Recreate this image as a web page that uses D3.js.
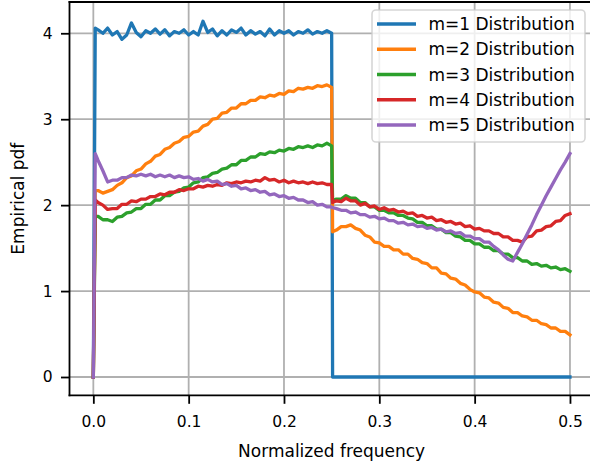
<!DOCTYPE html>
<html>
<head>
<meta charset="utf-8">
<script src="https://cdn.jsdelivr.net/npm/d3@7"></script>
<style>
  html, body { margin: 0; padding: 0; background: #ffffff; }
  svg { display: block; font-family: "DejaVu Sans", sans-serif; }
</style>
</head>
<body>
<svg id="chart" width="590" height="466"></svg>
<script>
// ---- data ----
const freq = [0, 0.002,
  0.005, 0.010, 0.015, 0.020, 0.025, 0.030, 0.035, 0.040, 0.045, 0.050,
  0.055, 0.060, 0.065, 0.070, 0.075, 0.080, 0.085, 0.090, 0.095, 0.100,
  0.105, 0.110, 0.115, 0.120, 0.125, 0.130, 0.135, 0.140, 0.145, 0.150,
  0.155, 0.160, 0.165, 0.170, 0.175, 0.180, 0.185, 0.190, 0.195, 0.200,
  0.205, 0.210, 0.215, 0.220, 0.225, 0.230, 0.235, 0.240, 0.245, 0.250,
  0.251,
  0.255, 0.260, 0.265, 0.270, 0.275, 0.280, 0.285, 0.290, 0.295, 0.300,
  0.305, 0.310, 0.315, 0.320, 0.325, 0.330, 0.335, 0.340, 0.345, 0.350,
  0.355, 0.360, 0.365, 0.370, 0.375, 0.380, 0.385, 0.390, 0.395, 0.400,
  0.405, 0.410, 0.415, 0.420, 0.425, 0.430, 0.435, 0.440, 0.445, 0.450,
  0.455, 0.460, 0.465, 0.470, 0.475, 0.480, 0.485, 0.490, 0.495, 0.500];

const m1 = [0, 4.06,
  4.04, 4.00, 4.06, 3.98, 4.02, 3.93, 3.98, 4.12, 4.01, 3.96,
  4.03, 4.00, 4.05, 3.99, 4.04, 3.97, 4.02, 4.00, 4.04, 3.98,
  4.02, 3.98, 4.14, 4.01, 4.05, 3.97, 4.03, 3.98, 4.04, 4.01,
  4.06, 3.98, 4.03, 3.99, 4.02, 3.97, 4.05, 3.98, 4.03, 4.00,
  4.03, 3.98, 4.02, 4.00, 4.04, 3.99, 4.02, 4.00, 4.03, 4.00,
  0,
  0, 0, 0, 0, 0, 0, 0, 0, 0, 0,
  0, 0, 0, 0, 0, 0, 0, 0, 0, 0,
  0, 0, 0, 0, 0, 0, 0, 0, 0, 0,
  0, 0, 0, 0, 0, 0, 0, 0, 0, 0,
  0, 0, 0, 0, 0, 0, 0, 0, 0, 0];

const m2 = [0, 2.17,
  2.17, 2.14, 2.16, 2.18, 2.23, 2.26, 2.32, 2.34, 2.40, 2.42,
  2.48, 2.51, 2.57, 2.59, 2.65, 2.67, 2.72, 2.74, 2.79, 2.80,
  2.85, 2.86, 2.92, 2.94, 3.00, 3.01, 3.07, 3.08, 3.13, 3.13,
  3.18, 3.18, 3.22, 3.22, 3.26, 3.25, 3.28, 3.27, 3.30, 3.29,
  3.33, 3.32, 3.36, 3.35, 3.37, 3.36, 3.39, 3.38, 3.40, 3.37,
  1.69,
  1.71, 1.75, 1.75, 1.77, 1.73, 1.71, 1.65, 1.63, 1.57, 1.56,
  1.52, 1.52, 1.48, 1.48, 1.43, 1.43, 1.38, 1.37, 1.33, 1.32,
  1.27, 1.27, 1.21, 1.20, 1.15, 1.14, 1.09, 1.07, 1.02, 0.99,
  0.98, 0.93, 0.92, 0.87, 0.86, 0.81, 0.80, 0.75, 0.75, 0.71,
  0.70, 0.66, 0.66, 0.62, 0.61, 0.57, 0.57, 0.53, 0.53, 0.49];

const m3 = [0, 1.87,
  1.87, 1.83, 1.83, 1.81, 1.86, 1.87, 1.91, 1.92, 1.96, 1.96,
  2.01, 2.01, 2.06, 2.06, 2.11, 2.11, 2.15, 2.16, 2.20, 2.21,
  2.26, 2.27, 2.32, 2.33, 2.37, 2.38, 2.42, 2.43, 2.47, 2.47,
  2.52, 2.52, 2.56, 2.56, 2.60, 2.59, 2.62, 2.61, 2.64, 2.63,
  2.66, 2.65, 2.68, 2.67, 2.69, 2.67, 2.70, 2.69, 2.72, 2.69,
  2.05,
  2.07, 2.07, 2.11, 2.08, 2.08, 2.03, 2.03, 1.98, 1.98, 1.94,
  1.94, 1.91, 1.91, 1.88, 1.88, 1.85, 1.84, 1.80, 1.80, 1.76,
  1.76, 1.72, 1.72, 1.68, 1.68, 1.64, 1.63, 1.59, 1.59, 1.55,
  1.55, 1.51, 1.51, 1.47, 1.47, 1.43, 1.43, 1.39, 1.39, 1.35,
  1.35, 1.31, 1.32, 1.29, 1.30, 1.27, 1.28, 1.25, 1.26, 1.23];

const m4 = [0, 2.06,
  2.03, 2.00, 1.95, 1.96, 1.96, 2.01, 2.01, 2.05, 2.04, 2.07,
  2.07, 2.10, 2.10, 2.13, 2.12, 2.15, 2.15, 2.18, 2.17, 2.19,
  2.19, 2.22, 2.21, 2.23, 2.22, 2.24, 2.23, 2.26, 2.25, 2.27,
  2.26, 2.28, 2.27, 2.29, 2.28, 2.32, 2.29, 2.30, 2.27, 2.29,
  2.26, 2.28, 2.26, 2.27, 2.25, 2.27, 2.25, 2.26, 2.24, 2.24,
  2.03,
  2.05, 2.04, 2.08, 2.05, 2.05, 2.00, 2.02, 1.98, 1.99, 1.95,
  1.97, 1.94, 1.95, 1.92, 1.93, 1.90, 1.91, 1.87, 1.88, 1.85,
  1.86, 1.82, 1.83, 1.80, 1.81, 1.78, 1.79, 1.75, 1.76, 1.72,
  1.73, 1.70, 1.70, 1.67, 1.67, 1.63, 1.63, 1.59, 1.59, 1.57,
  1.63, 1.64, 1.70, 1.71, 1.75, 1.76, 1.81, 1.82, 1.88, 1.90];

const m5 = [0, 2.60,
  2.52, 2.40, 2.27, 2.29, 2.29, 2.32, 2.32, 2.35, 2.34, 2.36,
  2.34, 2.36, 2.33, 2.35, 2.33, 2.35, 2.32, 2.34, 2.32, 2.33,
  2.30, 2.31, 2.28, 2.30, 2.27, 2.28, 2.24, 2.25, 2.22, 2.23,
  2.19, 2.20, 2.17, 2.18, 2.15, 2.16, 2.12, 2.13, 2.10, 2.11,
  2.08, 2.09, 2.06, 2.06, 2.03, 2.04, 2.00, 2.01, 1.98, 1.98,
  1.97,
  1.96, 1.94, 1.94, 1.91, 1.92, 1.89, 1.89, 1.86, 1.87, 1.84,
  1.85, 1.82, 1.82, 1.79, 1.80, 1.77, 1.78, 1.75, 1.76, 1.73,
  1.74, 1.71, 1.72, 1.69, 1.70, 1.67, 1.68, 1.64, 1.64, 1.61,
  1.61, 1.57, 1.57, 1.52, 1.48, 1.42, 1.37, 1.35, 1.45, 1.55,
  1.66, 1.77, 1.89, 2.00, 2.11, 2.21, 2.31, 2.41, 2.50, 2.60];

const seriesNames = ["m=1 Distribution", "m=2 Distribution", "m=3 Distribution",
                     "m=4 Distribution", "m=5 Distribution"];
const seriesValues = [m1, m2, m3, m4, m5];
const colors = ["#1f77b4", "#ff7f0e", "#2ca02c", "#d62728", "#9467bd"];

const xTicks = [0, 0.1, 0.2, 0.3, 0.4, 0.5];
const xTickLabels = ["0.0", "0.1", "0.2", "0.3", "0.4", "0.5"];
const yTicks = [0, 1, 2, 3, 4];
const yTickLabels = ["0", "1", "2", "3", "4"];
const xLabel = "Normalized frequency";
const yLabel = "Empirical pdf";

// ---- layout ----
const plotLeft = 69.5, plotRight = 593.8, plotTop = 2, plotBottom = 395.3;
const svg = d3.select("#chart");

const x = d3.scaleLinear().domain([-0.025, 0.525]).range([plotLeft, plotRight]);
const y = d3.scaleLinear().domain([-0.213, 4.364]).range([plotBottom, plotTop]);

// grid
const grid = svg.append("g");
grid.selectAll("line.vx").data(xTicks).enter().append("line")
  .attr("x1", d => x(d)).attr("x2", d => x(d))
  .attr("y1", plotTop).attr("y2", plotBottom)
  .attr("stroke", "#b0b0b0").attr("stroke-width", 1.8);
grid.selectAll("line.hy").data(yTicks).enter().append("line")
  .attr("x1", plotLeft).attr("x2", plotRight)
  .attr("y1", d => y(d)).attr("y2", d => y(d))
  .attr("stroke", "#b0b0b0").attr("stroke-width", 1.8);

// lines
const line = d3.line().x((d, i) => x(freq[i])).y(d => y(d));
svg.append("g").selectAll("path").data(seriesValues).enter().append("path")
  .attr("d", d => line(d))
  .attr("fill", "none")
  .attr("stroke", (d, i) => colors[i])
  .attr("stroke-width", 3.3)
  .attr("stroke-linejoin", "round")
  .attr("stroke-linecap", "square");

// axes
const xAxis = d3.axisBottom(x).tickValues(xTicks)
  .tickFormat((d, i) => xTickLabels[i]).tickSizeInner(8.5).tickSizeOuter(0).tickPadding(12);
const gx = svg.append("g").attr("transform", `translate(0,${plotBottom})`).call(xAxis);
gx.select(".domain").remove();
gx.selectAll(".tick line").attr("stroke", "#000").attr("stroke-width", 1.8);
gx.selectAll(".tick text").attr("font-size", 15.5).attr("fill", "#000")
  .attr("font-family", "DejaVu Sans");

const yAxis = d3.axisLeft(y).tickValues(yTicks)
  .tickFormat((d, i) => yTickLabels[i]).tickSizeInner(8.5).tickSizeOuter(0).tickPadding(8.5);
const gy = svg.append("g").attr("transform", `translate(${plotLeft},0)`).call(yAxis);
gy.select(".domain").remove();
gy.selectAll(".tick line").attr("stroke", "#000").attr("stroke-width", 1.8);
gy.selectAll(".tick text").attr("font-size", 15.5).attr("fill", "#000")
  .attr("font-family", "DejaVu Sans");

// spines
const sp = svg.append("g").attr("stroke", "#000").attr("stroke-width", 1.8)
  .attr("stroke-linecap", "square");
sp.append("line").attr("x1", plotLeft).attr("x2", plotLeft).attr("y1", plotTop).attr("y2", plotBottom);
sp.append("line").attr("x1", plotLeft).attr("x2", plotRight).attr("y1", plotBottom).attr("y2", plotBottom);
sp.append("line").attr("x1", plotLeft).attr("x2", plotRight).attr("y1", plotTop).attr("y2", plotTop);
sp.append("line").attr("x1", plotRight).attr("x2", plotRight).attr("y1", plotTop).attr("y2", plotBottom);

// axis labels
svg.append("text").attr("x", (plotLeft + plotRight) / 2).attr("y", 457)
  .attr("text-anchor", "middle").attr("font-size", 17).attr("fill", "#000")
  .text(xLabel);
svg.append("text").attr("transform", `translate(23.5,${(plotTop + plotBottom) / 2}) rotate(-90)`)
  .attr("text-anchor", "middle").attr("font-size", 17).attr("fill", "#000")
  .text(yLabel);

// legend
const lg = svg.append("g");
lg.append("rect").attr("x", 372).attr("y", 10).attr("width", 213).attr("height", 132)
  .attr("rx", 4).attr("fill", "#ffffff").attr("fill-opacity", 0.8)
  .attr("stroke", "#cccccc").attr("stroke-opacity", 0.8).attr("stroke-width", 1.6);
const rows = lg.selectAll("g.row").data(seriesNames).enter().append("g")
  .attr("transform", (d, i) => `translate(0,${24 + i * 25.25})`);
rows.append("line").attr("x1", 377).attr("x2", 416).attr("y1", 0).attr("y2", 0)
  .attr("stroke", (d, i) => colors[i]).attr("stroke-width", 3.3);
rows.append("text").attr("x", 428.5).attr("y", 0).attr("dy", "0.36em")
  .attr("font-size", 17).attr("fill", "#000").text(d => d);
</script>
</body>
</html>
